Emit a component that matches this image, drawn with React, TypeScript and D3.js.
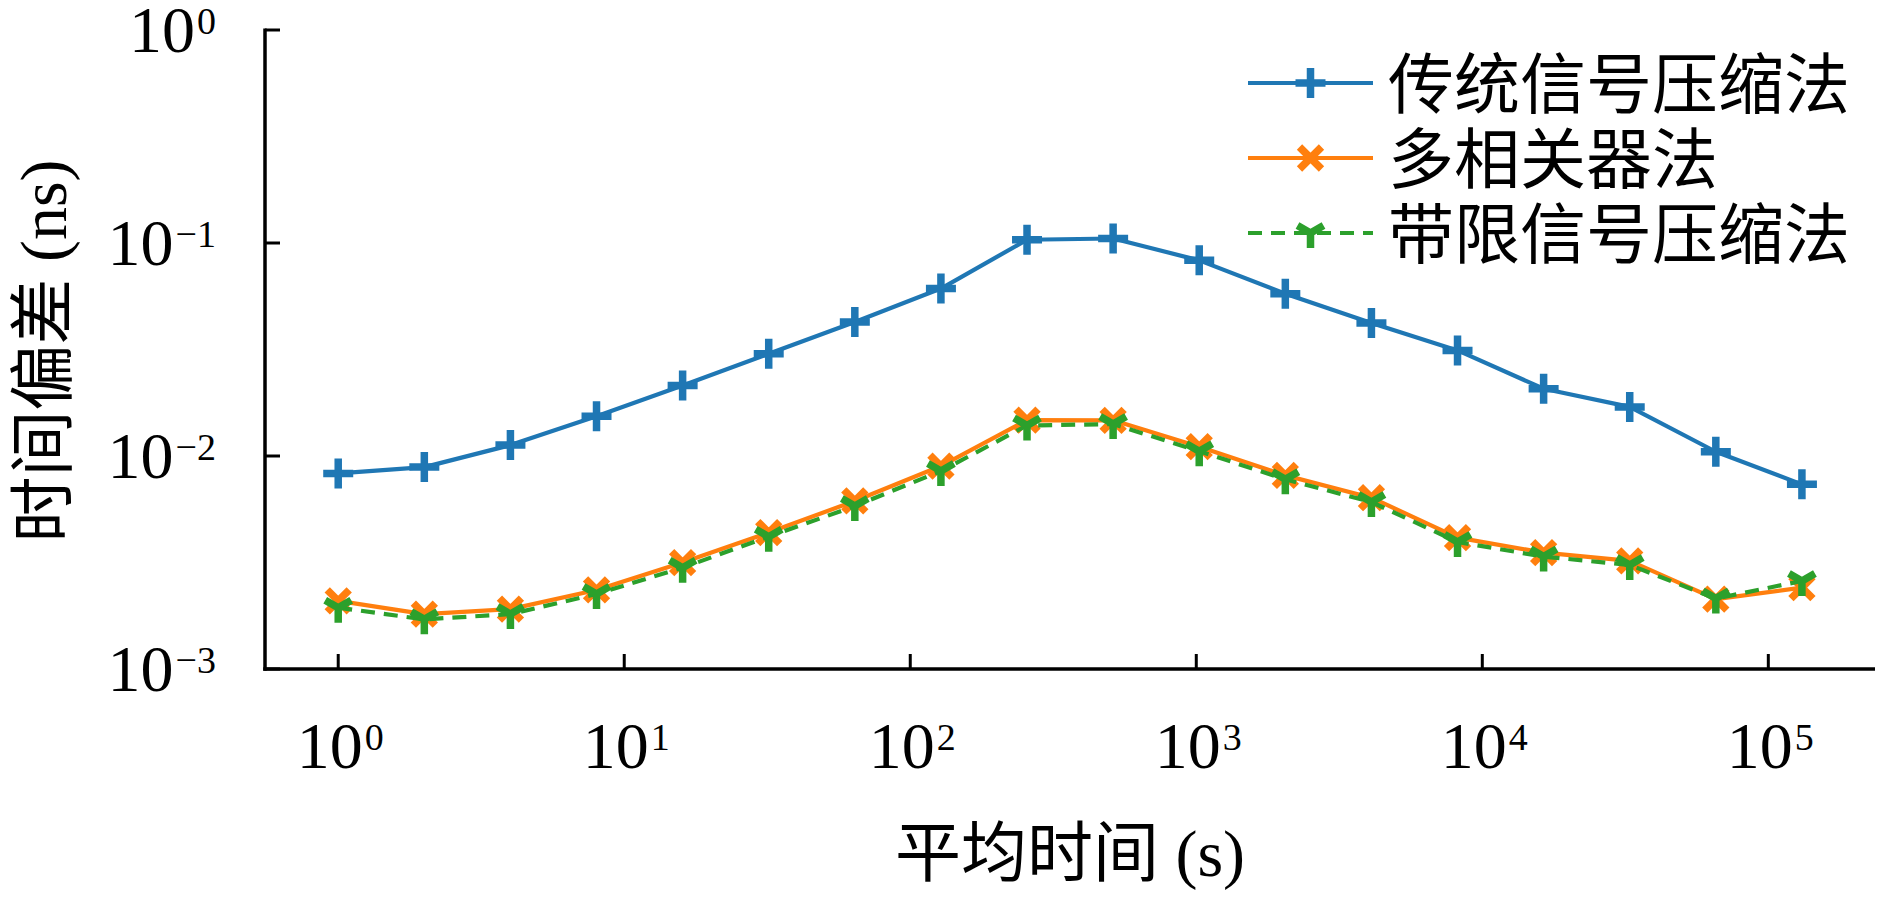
import * as d3 from 'd3';

// averaging time (s), powers of two
const avgTimes = [1, 2, 4, 8, 16, 32, 64, 128, 256, 512, 1024, 2048, 4096, 8192, 16384, 32768, 65536, 131072];

// time deviation (ns)
const traditional = [0.00828, 0.00887, 0.01125, 0.01538, 0.02143, 0.0302, 0.0426, 0.0611, 0.1036, 0.105, 0.0829, 0.0578, 0.0421, 0.0313, 0.0207, 0.017, 0.01047, 0.00736];
const multiCorrelator = [0.00209, 0.00181, 0.00191, 0.00235, 0.00316, 0.00437, 0.00615, 0.00897, 0.01473, 0.0147, 0.01106, 0.00811, 0.00637, 0.00414, 0.00352, 0.00322, 0.00213, 0.00241];
const bandLimited = [0.00194, 0.00171, 0.00181, 0.00225, 0.00299, 0.00418, 0.00582, 0.0085, 0.01391, 0.01412, 0.01054, 0.00777, 0.00608, 0.00395, 0.00337, 0.00308, 0.00214, 0.00259];

const seriesLabels = ['传统信号压缩法', '多相关器法', '带限信号压缩法'];
const xTickExps = [0, 1, 2, 3, 4, 5];
const yTickExps = [0, -1, -2, -3];

const xAxisLabel = '平均时间 (s)';
const yAxisLabel = '时间偏差 (ns)';

const W = 1890;
const H = 898;
const plot = { left: 265, right: 1875, top: 30, bottom: 669 };

const FONT = '"Liberation Serif", "Noto Sans CJK SC", serif';
const FS = 66;
const EXP_FS = 38;
const LW = 4.2;
const MSW = 7.5;

type MarkerKind = 'plus' | 'x' | 'tri';

const markerPath = (kind: MarkerKind) => {
  if (kind === 'plus') {
    const h = 15;
    return `M${-h},0H${h}M0,${-h}V${h}`;
  }
  if (kind === 'x') {
    const a = 11;
    return `M${-a},${-a}L${a},${a}M${-a},${a}L${a},${-a}`;
  }
  const r = 15;
  return `M0,0V${r}M0,0L${-r * 0.866},${-r * 0.5}M0,0L${r * 0.866},${-r * 0.5}`;
};

const series = [
  { label: seriesLabels[0], values: traditional, color: '#1f77b4', marker: 'plus' as MarkerKind, dash: undefined as string | undefined },
  { label: seriesLabels[1], values: multiCorrelator, color: '#ff7f0e', marker: 'x' as MarkerKind, dash: undefined },
  { label: seriesLabels[2], values: bandLimited, color: '#2ca02c', marker: 'tri' as MarkerKind, dash: '14,9' },
];

function PowerLabel({ x, y, exp, anchor }: { x: number; y: number; exp: number; anchor: 'middle' | 'end' }) {
  const e = exp < 0 ? `\u2212${-exp}` : `${exp}`;
  return (
    <text x={x} y={y} textAnchor={anchor} fontFamily={FONT} fontSize={FS} fill="#000">
      10
      <tspan dy={-18} dx={2} fontSize={EXP_FS}>{e}</tspan>
    </text>
  );
}

export default function App() {
  const x = d3
    .scaleLog()
    .domain([Math.pow(10, -0.256), Math.pow(10, 5.373)])
    .range([plot.left, plot.right]);
  const y = d3.scaleLog().domain([1e-3, 1]).range([plot.bottom, plot.top]);

  const line = d3
    .line<number>()
    .x((_, i) => x(avgTimes[i]))
    .y((d) => y(d));

  const legendRows = [83, 158, 233];
  const legendX0 = 1248;
  const legendX1 = 1373;
  const legendText = 1388;

  return (
    <svg
      width={W}
      height={H}
      viewBox={`0 0 ${W} ${H}`}
      style={{ position: 'absolute', left: 0, top: 0, background: '#fff' }}
    >
      {/* series */}
      {series.map((s) => (
        <g key={s.label}>
          <path
            d={line(s.values) ?? ''}
            fill="none"
            stroke={s.color}
            strokeWidth={LW}
            strokeDasharray={s.dash}
            strokeLinejoin="round"
          />
          {s.values.map((v, i) => (
            <path
              key={i}
              transform={`translate(${x(avgTimes[i])},${y(v)})`}
              d={markerPath(s.marker)}
              fill="none"
              stroke={s.color}
              strokeWidth={MSW}
            />
          ))}
        </g>
      ))}

      {/* spines */}
      <line x1={plot.left} x2={plot.left} y1={plot.top - 1.5} y2={plot.bottom + 1.75} stroke="#000" strokeWidth={3.5} />
      <line x1={plot.left - 1.75} x2={plot.right} y1={plot.bottom} y2={plot.bottom} stroke="#000" strokeWidth={3.5} />

      {/* y ticks */}
      {yTickExps.map((e) => {
        const ty = y(Math.pow(10, e));
        return (
          <g key={`y${e}`}>
            <line x1={plot.left} x2={plot.left + 15} y1={ty} y2={ty} stroke="#000" strokeWidth={3} />
            <PowerLabel x={216} y={ty + 22} exp={e} anchor="end" />
          </g>
        );
      })}

      {/* x ticks */}
      {xTickExps.map((e) => {
        const tx = x(Math.pow(10, e));
        return (
          <g key={`x${e}`}>
            <line x1={tx} x2={tx} y1={plot.bottom} y2={plot.bottom - 15} stroke="#000" strokeWidth={3} />
            <PowerLabel x={tx + 2} y={768} exp={e} anchor="middle" />
          </g>
        );
      })}

      {/* axis labels */}
      <text x={1070} y={876} textAnchor="middle" fontFamily={FONT} fontSize={FS} fill="#000">
        {xAxisLabel}
      </text>
      <text
        transform={`translate(66,351) rotate(-90)`}
        textAnchor="middle"
        fontFamily={FONT}
        fontSize={FS}
        fill="#000"
      >
        {yAxisLabel}
      </text>

      {/* legend */}
      {series.map((s, i) => {
        const ry = legendRows[i];
        return (
          <g key={`lg${i}`}>
            <line
              x1={legendX0}
              x2={legendX1}
              y1={ry}
              y2={ry}
              stroke={s.color}
              strokeWidth={LW}
              strokeDasharray={s.dash}
            />
            <path
              transform={`translate(${(legendX0 + legendX1) / 2},${ry})`}
              d={markerPath(s.marker)}
              fill="none"
              stroke={s.color}
              strokeWidth={MSW}
            />
            <text x={legendText} y={ry + 25} fontFamily={FONT} fontSize={FS} fill="#000">
              {s.label}
            </text>
          </g>
        );
      })}
    </svg>
  );
}
